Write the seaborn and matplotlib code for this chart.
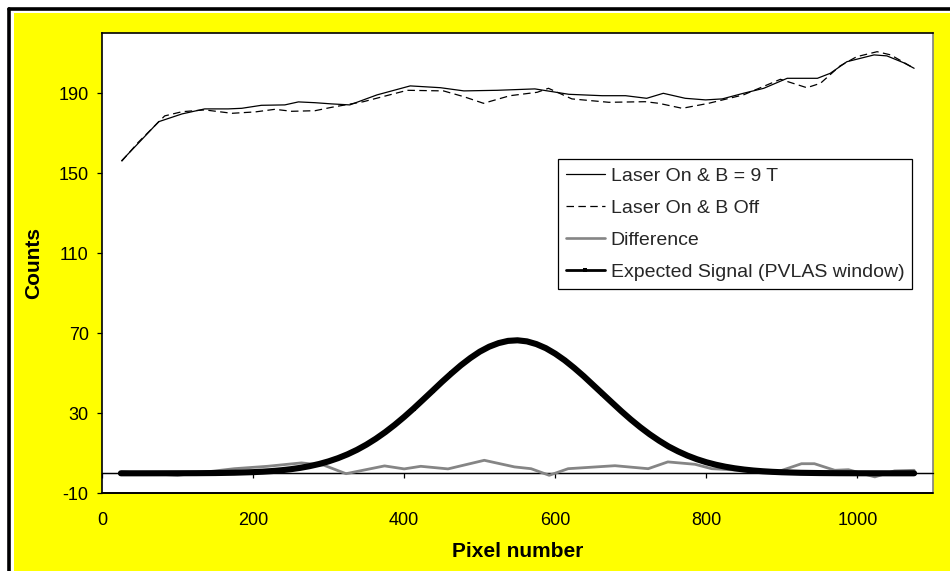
import matplotlib
matplotlib.use("Agg")
import matplotlib.pyplot as plt
import seaborn as sns
from matplotlib.patches import Rectangle
from matplotlib.lines import Line2D

# ---------------- data ----------------
on_x = [26, 48, 75, 106, 136, 167, 185, 211, 242, 260, 282, 304, 328, 364, 408,
        448, 479, 523, 573, 618, 662, 693, 721, 743, 772, 799, 821, 849, 876,
        907, 947, 964, 986, 1022, 1039, 1061, 1075]
on_y = [156.3, 165, 175.8, 179.7, 182.2, 182.2, 182.5, 184, 184.2, 185.7, 185.3,
        184.7, 184.2, 189.2, 193.7, 192.8, 191.2, 191.5, 192.2, 189.5, 188.8,
        188.8, 187.5, 190, 187.5, 186.7, 187.2, 190, 192.5, 197.5, 197.5, 200,
        205.8, 209.2, 208.7, 205.3, 202.5]

off_x = [26, 48, 83, 106, 136, 172, 203, 229, 251, 282, 304, 346, 404, 452, 479,
         505, 540, 576, 591, 622, 671, 719, 737, 768, 803, 849, 898, 933, 951,
         977, 999, 1026, 1044, 1075]
off_y = [156, 165.5, 178.7, 180.8, 181.7, 180, 180.7, 182, 181, 181.3, 183,
         185.8, 191.5, 191.2, 188.3, 185, 188.8, 190.5, 192.5, 187.2, 185.5,
         185.8, 185, 182.5, 185, 189.2, 197, 192.8, 195, 203.7, 208.3, 210.8,
         209.2, 202.5]

diff_x = [26, 100, 175, 219, 264, 294, 323, 374, 400, 422, 458, 506, 546, 568,
          592, 617, 679, 723, 749, 785, 807, 846, 890, 926, 943, 970, 988, 1023,
          1049, 1075]
diff_y = [0.7, -1, 2.3, 3.5, 5.2, 4, -0.2, 3.7, 2.2, 3.5, 2.2, 6.5, 3.2, 2.3,
          -1, 2.3, 3.8, 2.3, 5.7, 4.5, 2.3, 1.5, 0.2, 4.8, 4.8, 1.5, 1.8, -1.8,
          1.2, 1.5]

exp_x = [25, 50, 75, 100, 125, 150, 175, 200, 212.5, 225, 237.5, 250, 262.5,
         275, 287.5, 300, 312.5, 325, 337.5, 350, 362.5, 375, 387.5, 400, 412.5,
         425, 437.5, 450, 462.5, 475, 487.5, 500, 512.5, 525, 537.5, 550, 562.5,
         575, 587.5, 600, 612.5, 625, 637.5, 650, 662.5, 675, 687.5, 700, 712.5,
         725, 737.5, 750, 762.5, 775, 787.5, 800, 812.5, 825, 837.5, 850, 862.5,
         875, 887.5, 900, 925, 950, 975, 1000, 1025, 1050, 1075]
exp_y = [0.0, 0.0, 0.01, 0.03, 0.06, 0.13, 0.29, 0.58, 0.81, 1.12, 1.53, 2.05,
         2.73, 3.59, 4.66, 5.98, 7.58, 9.49, 11.73, 14.33, 17.29, 20.6, 24.25,
         28.2, 32.4, 36.8, 41.23, 45.7, 49.95, 54.0, 57.62, 60.8, 63.3, 65.1,
         66.21, 66.5, 65.96, 64.6, 62.56, 59.8, 56.5, 52.7, 48.6, 44.2, 39.8,
         35.4, 31.04, 26.9, 23.05, 19.5, 16.3, 13.4, 10.97, 8.84, 7.04, 5.53,
         4.3, 3.3, 2.5, 1.87, 1.38, 1.01, 0.73, 0.52, 0.25, 0.12, 0.05, 0.02,
         0.01, 0.0, 0.0]

labels = ["Laser On & B = 9 T", "Laser On & B Off", "Difference",
          "Expected Signal (PVLAS window)"]
x_ticks = [0, 200, 400, 600, 800, 1000]
y_ticks = [-10, 30, 70, 110, 150, 190]
x_lim = (0, 1100)
y_lim = (-10, 220)

# ---------------- style ----------------
sns.set_theme(style="white")
plt.rcParams["font.family"] = ["Liberation Sans", "DejaVu Sans"]
plt.rcParams["axes.unicode_minus"] = False

fig = plt.figure(figsize=(9.5, 5.71), dpi=100, facecolor="white")

# page decoration: black frame and yellow chart area (behind the axes)
fig.patches.append(Rectangle((14 / 950, -0.02), 1.0, 1 - 13 / 571 + 0.02,
                             transform=fig.transFigure, facecolor="#FFFF00",
                             edgecolor="none", zorder=-2))
fig.lines.append(Line2D([8.5 / 950, 8.5 / 950], [-0.01, 1 - 8.5 / 571],
                        transform=fig.transFigure, color="black", lw=2.6,
                        zorder=-1))
fig.lines.append(Line2D([8.5 / 950, 1.01], [1 - 8.5 / 571, 1 - 8.5 / 571],
                        transform=fig.transFigure, color="black", lw=2.6,
                        zorder=-1))

ax = fig.add_axes([102 / 950, 77.7 / 571, 831 / 950, 460 / 571])
ax.set_zorder(1)
ax.set_facecolor("white")

ax.axhline(0, color="black", lw=0.9, zorder=1)

sns.lineplot(x=on_x, y=on_y, ax=ax, color="black", lw=0.9, label=labels[0],
             zorder=3)
sns.lineplot(x=off_x, y=off_y, ax=ax, color="black", lw=0.9,
             label=labels[1], zorder=3)
ax.lines[-1].set_dashes((6, 3.5))
sns.lineplot(x=diff_x, y=diff_y, ax=ax, color="#858585", lw=2.0,
             label=labels[2], zorder=4)
sns.lineplot(x=exp_x, y=exp_y, ax=ax, color="black", lw=4.4, marker="s",
             markersize=3, markeredgewidth=0, label=labels[3], zorder=5,
             solid_joinstyle="round")

ax.set_xlim(*x_lim)
ax.set_ylim(*y_lim)
ax.set_xticks(x_ticks)
ax.set_yticks(y_ticks)

# spines: bottom axis line at y = 0 (Excel style), frame around plot area
ax.spines["bottom"].set_position(("data", 0))
ax.spines["bottom"].set_color("black")
ax.spines["bottom"].set_linewidth(0.9)
ax.spines["left"].set_color("black")
ax.spines["left"].set_linewidth(1.2)
ax.spines["top"].set_color("black")
ax.spines["top"].set_linewidth(1.2)
ax.spines["right"].set_color("#808080")
ax.spines["right"].set_linewidth(1.2)
ax.axhline(y_lim[0], color="black", lw=1.4, clip_on=False, zorder=6)

ax.tick_params(axis="x", direction="out", length=3.6, width=0.9, pad=24,
               labelsize=13, colors="black", bottom=True)
ax.tick_params(axis="y", direction="out", length=3.6, width=0.9, pad=6,
               labelsize=13, colors="black", left=True)

ax.set_xlabel("Pixel number", fontsize=15, fontweight="bold", color="black")
ax.set_ylabel("Counts", fontsize=15, fontweight="bold", color="black")
ax.xaxis.set_label_coords(0.5, -0.105)
ax.yaxis.set_label_coords(-0.071, 0.5)

leg = ax.legend(loc="upper left", bbox_to_anchor=(0.549, 0.7257),
                borderaxespad=0, fontsize=14, frameon=True, fancybox=False,
                framealpha=1, edgecolor="black", handlelength=2.0,
                handletextpad=0.3, labelspacing=0.74, borderpad=0.4)
leg.get_frame().set_linewidth(0.9)
for h, w in zip(leg.get_lines(), [0.9, 0.9, 1.9, 2.0]):
    h.set_linewidth(w)

fig.savefig("out.png", dpi=100, facecolor=fig.get_facecolor())
